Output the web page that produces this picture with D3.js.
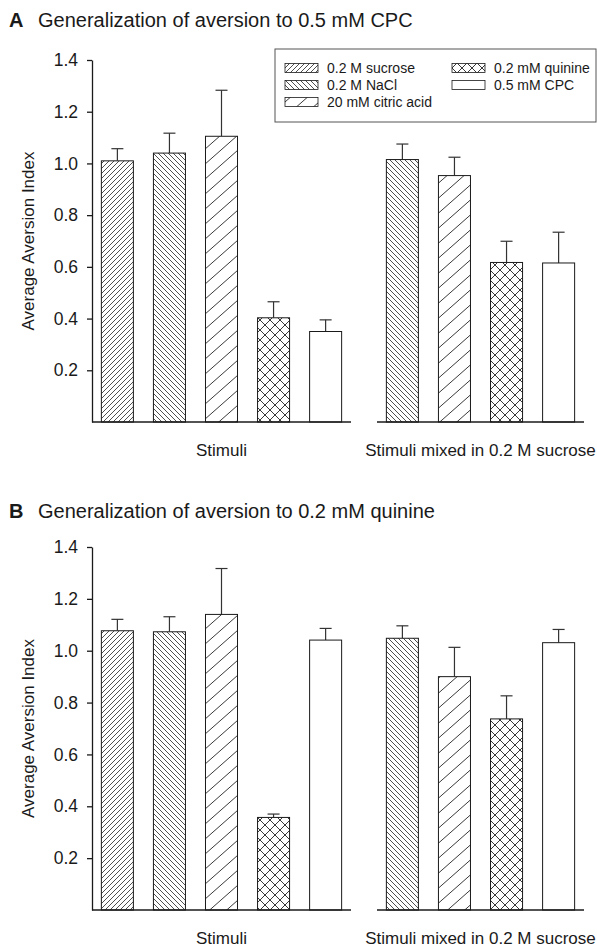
<!DOCTYPE html>
<html>
<head>
<meta http-equiv='Content-Type' content='text/html; charset=UTF-8'/>
<script src="https://cdn.jsdelivr.net/npm/d3@7"></script>
<style>
    body { margin: 0; background: #fff; }
    svg text { font-family: "Liberation Sans", Arial, sans-serif; fill: #1a1a1a; }
    .axis path, .axis line { stroke: #1a1a1a; stroke-width: 1.3; }
    .axis text { font-size: 17.5px; }
    .bar { stroke: #1a1a1a; stroke-width: 1; }
    .err { stroke: #333; stroke-width: 1.2; fill: none; }
</style>
</head>
<body>
<svg id="main" width="597" height="949"></svg>

<script>
    // categories
    var stimuli = ['0.2 M sucrose', '0.2 M NaCl', '20 mM citric acid', '0.2 mM quinine', '0.5 mM CPC']
    var mixedStimuli = ['0.2 M NaCl', '20 mM citric acid', '0.2 mM quinine', '0.5 mM CPC']
    var groupLabels = ['Stimuli', 'Stimuli mixed in 0.2 M sucrose']
    var yTicks = [0.2, 0.4, 0.6, 0.8, 1.0, 1.2, 1.4]

    // panel A: aversion to 0.5 mM CPC
    var aStimuli = [1.01, 1.04, 1.105, 0.403, 0.350]
    var aStimuliErr = [0.047, 0.077, 0.178, 0.062, 0.045]
    var aMixed = [1.015, 0.953, 0.617, 0.615]
    var aMixedErr = [0.060, 0.071, 0.082, 0.119]

    // panel B: aversion to 0.2 mM quinine
    var bStimuli = [1.077, 1.073, 1.140, 0.357, 1.041]
    var bStimuliErr = [0.044, 0.058, 0.177, 0.013, 0.045]
    var bMixed = [1.048, 0.900, 0.737, 1.031]
    var bMixedErr = [0.048, 0.113, 0.089, 0.051]

    var fills = {
        '0.2 M sucrose': 'url(#p-sucrose)',
        '0.2 M NaCl': 'url(#p-nacl)',
        '20 mM citric acid': 'url(#p-citric)',
        '0.2 mM quinine': 'url(#p-quinine)',
        '0.5 mM CPC': '#fff'
    }

    var svg = d3.select('#main')

    // hatch patterns
    var defs = svg.append('defs')
    var addPattern = function(id, w, h, d, sw){
        var p = defs.append('pattern').attr('id', id)
            .attr('patternUnits', 'userSpaceOnUse')
            .attr('width', w).attr('height', h)
        p.append('rect').attr('width', w).attr('height', h).attr('fill', '#fff')
        p.append('path').attr('d', d).attr('stroke', '#222').attr('stroke-width', sw).attr('fill', 'none')
    }
    addPattern('p-sucrose', 5, 5, 'M-1,1 l2,-2 M0,5 l5,-5 M4,6 l2,-2', 0.8)
    addPattern('p-nacl', 5, 5, 'M-1,4 l2,2 M0,0 l5,5 M4,-1 l2,2', 0.8)
    addPattern('p-citric', 17, 15, 'M-1.7,1.5 l3.4,-3 M0,15 l17,-15 M15.3,16.5 l3.4,-3', 0.9)
    addPattern('p-quinine', 10, 10, 'M0,10 l10,-10 M-1,1 l2,-2 M9,11 l2,-2 M0,0 l10,10 M-1,9 l2,2 M9,-1 l2,2', 0.9)

    var xStim = d3.scaleBand().domain(stimuli).range([92, 351]).paddingInner(0.385).paddingOuter(0.18)
    var xMix = d3.scaleBand().domain(mixedStimuli).range([377, 584]).paddingInner(0.385).paddingOuter(0.18)

    var drawGroup = function(g, x, cats, vals, errs, y){
        var data = cats.map(function(c, i){ return {cat: c, v: vals[i], e: errs[i]} })
        g.selectAll('line.err-v').data(data).enter().append('line')
            .attr('class', 'err')
            .attr('x1', d => x(d.cat) + x.bandwidth() / 2).attr('x2', d => x(d.cat) + x.bandwidth() / 2)
            .attr('y1', d => y(d.v)).attr('y2', d => y(d.v + d.e))
        g.selectAll('line.err-c').data(data).enter().append('line')
            .attr('class', 'err')
            .attr('x1', d => x(d.cat) + x.bandwidth() / 2 - 6).attr('x2', d => x(d.cat) + x.bandwidth() / 2 + 6)
            .attr('y1', d => y(d.v + d.e)).attr('y2', d => y(d.v + d.e))
        g.selectAll('rect.bar').data(data).enter().append('rect')
            .attr('class', 'bar')
            .attr('x', d => x(d.cat)).attr('width', x.bandwidth())
            .attr('y', d => y(d.v)).attr('height', d => y(0) - y(d.v))
            .attr('fill', d => fills[d.cat])
        // baseline under the group
        g.append('line')
            .attr('x1', x.range()[0]).attr('x2', x.range()[1])
            .attr('y1', y(0)).attr('y2', y(0))
            .attr('stroke', '#1a1a1a').attr('stroke-width', 1.6)
    }

    var drawPanel = function(letter, title, top, bottom, titleY, stimVals, stimErrs, mixVals, mixErrs){
        var y = d3.scaleLinear().domain([0, 1.4]).range([bottom, top])
        var g = svg.append('g')

        g.append('text').attr('x', 9).attr('y', titleY)
            .style('font-size', '20px').style('font-weight', 'bold').text(letter)
        g.append('text').attr('x', 38).attr('y', titleY)
            .style('font-size', '20px').text(title)

        g.append('g').attr('class', 'axis')
            .attr('transform', 'translate(92,0)')
            .call(d3.axisLeft(y).tickValues(yTicks).tickFormat(d3.format('.1f')).tickSize(5).tickSizeOuter(0).tickPadding(9))

        g.append('text')
            .attr('transform', 'translate(34,' + (top + bottom) / 2 + ') rotate(-90)')
            .attr('text-anchor', 'middle').style('font-size', '17px')
            .text('Average Aversion Index')

        drawGroup(g.append('g'), xStim, stimuli, stimVals, stimErrs, y)
        drawGroup(g.append('g'), xMix, mixedStimuli, mixVals, mixErrs, y)

        var xs = [xStim, xMix]
        g.selectAll('text.glabel').data(groupLabels).enter().append('text')
            .attr('x', (d, i) => (xs[i].range()[0] + xs[i].range()[1]) / 2)
            .attr('y', bottom + 34)
            .attr('text-anchor', 'middle').style('font-size', '17px')
            .text(d => d)
    }

    drawPanel('A', 'Generalization of aversion to 0.5 mM CPC', 60, 422, 27, aStimuli, aStimuliErr, aMixed, aMixedErr)
    drawPanel('B', 'Generalization of aversion to 0.2 mM quinine', 547, 910, 518, bStimuli, bStimuliErr, bMixed, bMixedErr)

    // legend
    var legend = svg.append('g')
    legend.append('rect').attr('x', 275).attr('y', 49).attr('width', 321).attr('height', 73)
        .attr('fill', '#fff').attr('stroke', '#555').attr('stroke-width', 1)
    var legendPos = stimuli.map(function(c, i){
        return {cat: c, col: i < 3 ? 0 : 1, row: i < 3 ? i : i - 3}
    })
    var colX = [285, 452], rowY = [68, 85, 102]
    var items = legend.selectAll('g.item').data(legendPos).enter().append('g')
        .attr('transform', d => 'translate(' + colX[d.col] + ',' + rowY[d.row] + ')')
    items.append('rect').attr('x', 0).attr('y', -4.5).attr('width', 33).attr('height', 9)
        .attr('fill', d => fills[d.cat]).attr('stroke', '#1a1a1a').attr('stroke-width', 0.8)
    items.append('text').attr('x', 42).attr('y', 5).style('font-size', '14px').text(d => d.cat)
</script>
</body>
</html>
